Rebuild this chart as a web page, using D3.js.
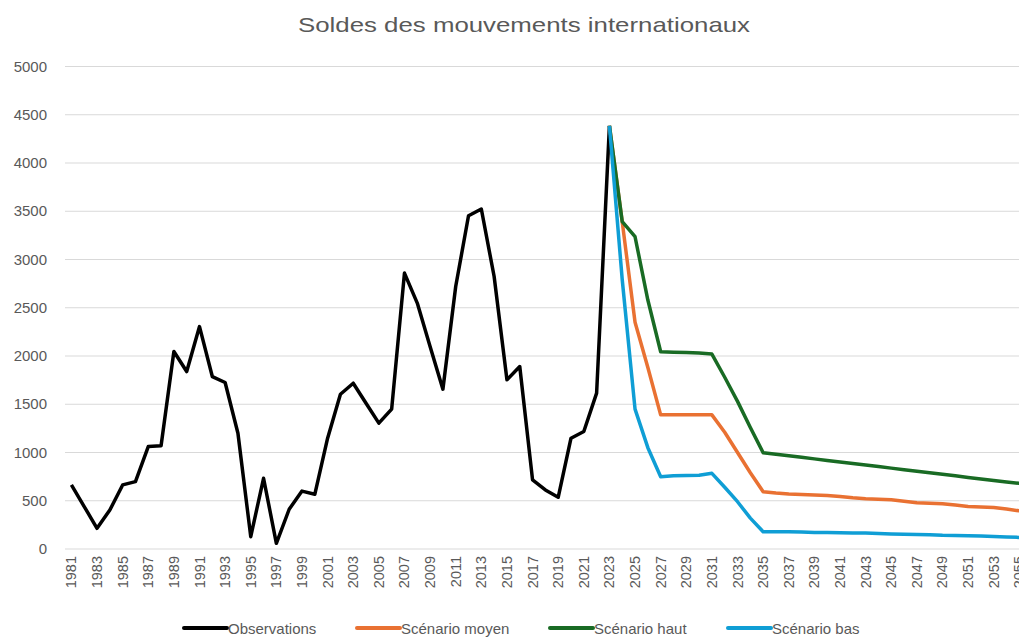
<!DOCTYPE html>
<html>
<head>
<meta charset="utf-8">
<script src="https://cdn.jsdelivr.net/npm/d3@7"></script>
<style>
	body { margin: 0; background: #fff; overflow: hidden; }
	text { font-family: "Liberation Sans", Arial, sans-serif; fill: #595959; }
</style>
</head>
<body>
<svg id="chart"></svg>
<script>
var years = d3.range(1981, 2056);
var yTicks = [0, 500, 1000, 1500, 2000, 2500, 3000, 3500, 4000, 4500, 5000];

// 1981 -> 2023
var observations = [664, 440, 214, 404, 664, 698, 1061, 1071, 2046, 1839, 2305, 1787, 1725, 1200, 128,
	733, 59, 412, 600, 567, 1148, 1604, 1718, 1511, 1304, 1449, 2859, 2548, 2098, 1656, 2720, 3453, 3523,
	2824, 1753, 1891, 716, 612, 536, 1148, 1217, 1615, 4385];

// 2023 -> 2055
var scenarioMoyen = [4385, 3390, 2350, 1880, 1390, 1390, 1390, 1390, 1390, 1210, 1000, 790, 594, 580, 570,
	565, 560, 555, 545, 530, 520, 515, 510, 495, 480, 475, 470, 455, 440, 435, 430, 415, 395];
var scenarioHaut = [4385, 3392, 3236, 2580, 2044, 2040, 2035, 2030, 2020, 1780, 1530, 1260, 998, 982, 966,
	950, 934, 918, 902, 886, 870, 854, 838, 822, 806, 790, 774, 758, 742, 726, 710, 694, 680];
var scenarioBas = [4385, 2790, 1450, 1050, 749, 760, 762, 765, 784, 640, 490, 320, 179, 180, 180, 175, 170,
	170, 168, 165, 165, 160, 155, 152, 150, 148, 142, 140, 138, 135, 130, 125, 120];

var seriesNames = ["Observations", "Scénario moyen", "Scénario haut", "Scénario bas"];
var seriesColors = ["#000000", "#E97132", "#196B24", "#0F9ED5"];

var Chart = (function(){
	var width = 1019, height = 637, svg, x, y;
	var plotLeft = 65, step = 12.81;

	var setup = function(){
		svg = d3.select("#chart").attr("width", width).attr("height", height);
		x = d3.scaleBand().domain(years).range([plotLeft, plotLeft + years.length * step]);
		y = d3.scaleLinear().domain([0, 5000]).range([549, 66.5]);
	}

	var toPoints = function(startYear, values){
		return values.map(function(v, i){ return {year: startYear + i, value: v}; });
	}

	var drawAxes = function(){
		svg.append("text")
			.attr("x", 524).attr("y", 32)
			.attr("text-anchor", "middle")
			.attr("font-size", 21)
			.attr("textLength", 452)
			.attr("lengthAdjust", "spacingAndGlyphs")
			.text("Soldes des mouvements internationaux");

		var grid = svg.append("g");
		grid.selectAll("line")
			.data(yTicks)
			.enter()
			.append("line")
			.attr("x1", plotLeft).attr("x2", width)
			.attr("y1", function(d){ return y(d); })
			.attr("y2", function(d){ return y(d); })
			.attr("stroke", "#d9d9d9")
			.attr("stroke-width", 1);

		grid.selectAll("text")
			.data(yTicks)
			.enter()
			.append("text")
			.attr("x", 47)
			.attr("y", function(d){ return y(d) + 5; })
			.attr("text-anchor", "end")
			.attr("font-size", 15)
			.text(function(d){ return d; });

		var xLabels = years.filter(function(d){ return (d - 1981) % 2 == 0; });
		svg.append("g").selectAll("text")
			.data(xLabels)
			.enter()
			.append("text")
			.attr("transform", function(d){
				return "translate(" + (x(d) + x.bandwidth() / 2 + 5) + ",556) rotate(-90)";
			})
			.attr("text-anchor", "end")
			.attr("font-size", 14.5)
			.text(function(d){ return d; });
	}

	var drawLines = function(){
		var line = d3.line()
			.x(function(d){ return x(d.year) + x.bandwidth() / 2; })
			.y(function(d){ return y(d.value); });
		var series = [
			toPoints(1981, observations),
			toPoints(2023, scenarioMoyen),
			toPoints(2023, scenarioHaut),
			toPoints(2023, scenarioBas)
		];
		svg.append("g").selectAll("path")
			.data(series)
			.enter()
			.append("path")
			.attr("d", function(d){ return line(d); })
			.attr("fill", "none")
			.attr("stroke", function(d, i){ return seriesColors[i]; })
			.attr("stroke-width", 3.5)
			.attr("stroke-linejoin", "round");
	}

	var drawLegend = function(){
		var legendX = [184, 357, 550, 728];
		var items = svg.append("g").selectAll("g")
			.data(seriesNames)
			.enter()
			.append("g")
			.attr("transform", function(d, i){ return "translate(" + legendX[i] + ",628)"; });
		items.append("line")
			.attr("x1", 0).attr("x2", 43)
			.attr("stroke", function(d, i){ return seriesColors[i]; })
			.attr("stroke-width", 4)
			.attr("stroke-linecap", "round");
		items.append("text")
			.attr("x", 44).attr("y", 5.5)
			.attr("font-size", 15)
			.text(function(d){ return d; });
	}

	return {
		render: function(){
			setup();
			drawAxes();
			drawLines();
			drawLegend();
		}
	}
})();

Chart.render();
</script>
</body>
</html>
